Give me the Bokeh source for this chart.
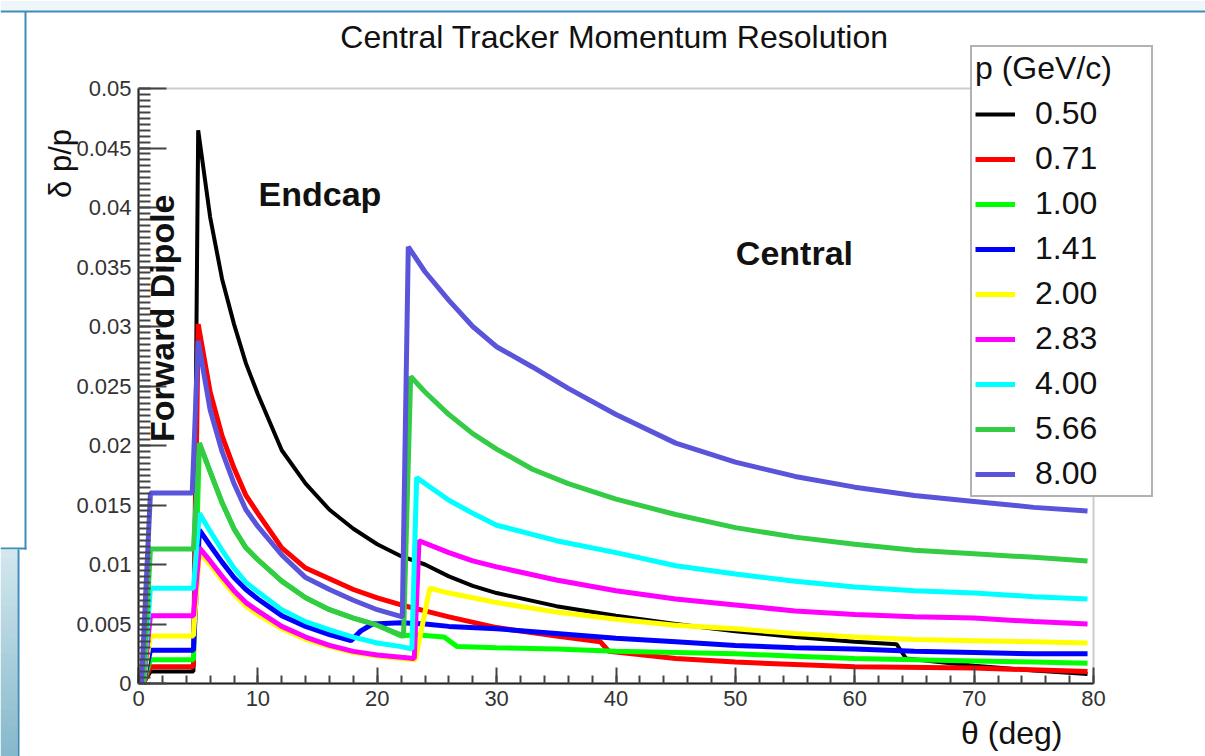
import math
from bokeh.plotting import figure
from bokeh.models import (Range1d, FixedTicker, Label, Legend, LegendItem, BoxAnnotation,
                          LinearAxis)
from bokeh.embed import file_html
from bokeh.resources import INLINE

FONT = "Liberation Sans"

# ---------------- data ----------------
momenta = ["0.50", "0.71", "1.00", "1.41", "2.00", "2.83", "4.00", "5.66", "8.00"]
colors = ["#000000", "#ff0000", "#00ff00", "#0000ff", "#ffff00", "#ff00ff",
          "#00ffff", "#33cc44", "#5954d9"]
widths = [4, 5, 5, 5, 5, 5, 5, 5, 5]

theta_050 = [0.4, 1.0, 4.6, 5.0, 6, 7, 8, 9, 10, 12, 14, 16, 18, 20, 22, 24, 26, 28, 30,
             35, 40, 45, 50, 55, 60, 63.5, 64.3, 70, 75, 79.5]
dpp_050 = [0, 0.0010, 0.0010, 0.0465, 0.0392, 0.0340, 0.0302, 0.0269, 0.0243, 0.0196,
           0.0168, 0.0146, 0.0130, 0.0117, 0.0107, 0.0100, 0.0090, 0.0082, 0.0076, 0.0065,
           0.0057, 0.0050, 0.0044, 0.0039, 0.0035, 0.0033, 0.0021, 0.0015, 0.0011, 0.0008]

theta_071 = [0.4, 1.0, 4.6, 5.0, 6, 7, 8, 9, 10, 12, 14, 16, 18, 20, 22, 24, 26, 30, 35,
             38.7, 39.4, 45, 50, 55, 60, 70, 79.5]
dpp_071 = [0, 0.0014, 0.0014, 0.0302, 0.0245, 0.0208, 0.0181, 0.0158, 0.0143, 0.0114,
           0.0097, 0.0088, 0.0079, 0.0072, 0.0066, 0.0061, 0.0056, 0.0047, 0.0040, 0.0035,
           0.0027, 0.0021, 0.0018, 0.0016, 0.0014, 0.0013, 0.0010]

theta_100 = [0.4, 1.0, 4.6, 5.1, 6, 7, 8, 9, 10, 12, 14, 16, 18, 20, 22, 23.2, 25.6, 26.7,
             30, 35, 40, 45, 50, 55, 60, 65, 70, 75, 79.5]
dpp_100 = [0, 0.0020, 0.0020, 0.0202, 0.0178, 0.0152, 0.0130, 0.0114, 0.0104, 0.0086,
           0.0072, 0.0062, 0.0055, 0.0049, 0.0040, 0.0041, 0.0039, 0.0031, 0.0030, 0.0029,
           0.0027, 0.0026, 0.0025, 0.0023, 0.0021, 0.0020, 0.0019, 0.0018, 0.0017]

theta_141 = [0.4, 1.0, 4.6, 5.1, 6, 7, 8, 9, 10, 12, 14, 16, 17.8, 18.6, 19.6, 22, 24, 26,
             30, 35, 40, 45, 50, 55, 60, 65, 70, 75, 79.5]
dpp_141 = [0, 0.0028, 0.0028, 0.0129, 0.0116, 0.0102, 0.0089, 0.0079, 0.0071, 0.0057,
           0.0048, 0.0041, 0.0036, 0.0044, 0.0050, 0.0051, 0.0050, 0.0048, 0.0046, 0.0042,
           0.0038, 0.0035, 0.0032, 0.0030, 0.0029, 0.0027, 0.0026, 0.0025, 0.0025]

theta_200 = [0.4, 1.0, 4.6, 5.1, 6, 7, 8, 9, 10, 12, 14, 16, 18, 20, 22, 23.2, 24.4, 26,
             28, 30, 35, 40, 45, 50, 55, 60, 65, 70, 75, 79.5]
dpp_200 = [0, 0.0040, 0.0040, 0.0110, 0.0100, 0.0087, 0.0075, 0.0065, 0.0058, 0.0046,
           0.0037, 0.0031, 0.0026, 0.0023, 0.0021, 0.0020, 0.0080, 0.0076, 0.0072, 0.0068,
           0.0060, 0.0054, 0.0049, 0.0046, 0.0042, 0.0039, 0.0037, 0.0036, 0.0035, 0.0034]

theta_283 = [0.4, 1.0, 4.6, 5.1, 6, 7, 8, 9, 10, 12, 14, 16, 18, 20, 22, 23.1, 23.5, 26,
             28, 30, 35, 40, 45, 50, 55, 60, 65, 70, 75, 79.5]
dpp_283 = [0, 0.0057, 0.0057, 0.0114, 0.0103, 0.0090, 0.0078, 0.0068, 0.0061, 0.0048,
           0.0039, 0.0032, 0.0027, 0.0024, 0.0022, 0.0021, 0.0120, 0.0110, 0.0103, 0.0098,
           0.0087, 0.0078, 0.0071, 0.0066, 0.0061, 0.0058, 0.0056, 0.0055, 0.0052, 0.0050]

theta_400 = [0.4, 1.0, 4.6, 5.1, 6, 7, 8, 9, 10, 12, 14, 16, 18, 20, 22, 22.9, 23.3, 26,
             28, 30, 35, 40, 45, 50, 55, 60, 65, 70, 75, 79.5]
dpp_400 = [0, 0.0080, 0.0080, 0.0143, 0.0128, 0.0112, 0.0097, 0.0085, 0.0077, 0.0062,
           0.0052, 0.0045, 0.0039, 0.0034, 0.0031, 0.0029, 0.0173, 0.0154, 0.0143, 0.0133,
           0.0120, 0.0110, 0.0099, 0.0092, 0.0086, 0.0081, 0.0078, 0.0076, 0.0073, 0.0071]

theta_566 = [0.4, 1.0, 4.6, 5.1, 6, 7, 8, 9, 10, 12, 14, 16, 18, 20, 22.2, 22.8, 24, 26,
             28, 30, 33, 36, 40, 45, 50, 55, 60, 65, 70, 75, 79.5]
dpp_566 = [0, 0.0113, 0.0113, 0.0202, 0.0178, 0.0152, 0.0130, 0.0114, 0.0104, 0.0086,
           0.0072, 0.0062, 0.0055, 0.0049, 0.0040, 0.0258, 0.0245, 0.0226, 0.0210, 0.0197,
           0.0180, 0.0168, 0.0155, 0.0142, 0.0131, 0.0123, 0.0117, 0.0112, 0.0109, 0.0106,
           0.0103]

theta_800 = [0.25, 1.0, 4.5, 5.0, 6, 7, 8, 9, 10, 12, 14, 16, 18, 20, 22.1, 22.6, 24, 26,
             28, 30, 33, 36, 40, 45, 50, 55, 60, 65, 70, 75, 79.5]
dpp_800 = [0, 0.0160, 0.0160, 0.0288, 0.0230, 0.0195, 0.0168, 0.0146, 0.0132, 0.0108,
           0.0089, 0.0079, 0.0070, 0.0062, 0.0056, 0.0367, 0.0346, 0.0322, 0.0300, 0.0283,
           0.0266, 0.0248, 0.0226, 0.0202, 0.0186, 0.0174, 0.0165, 0.0158, 0.0153, 0.0148,
           0.0145]

series_theta = [theta_050, theta_071, theta_100, theta_141, theta_200, theta_283,
                theta_400, theta_566, theta_800]
series_dpp = [dpp_050, dpp_071, dpp_100, dpp_141, dpp_200, dpp_283, dpp_400, dpp_566,
              dpp_800]

x_ticks = [0, 10, 20, 30, 40, 50, 60, 70, 80]
x_tick_labels = ["0", "10", "20", "30", "40", "50", "60", "70", "80"]
y_ticks = [0, 0.005, 0.01, 0.015, 0.02, 0.025, 0.03, 0.035, 0.04, 0.045, 0.05]
y_tick_labels = ["0", "0.005", "0.01", "0.015", "0.02", "0.025", "0.03", "0.035",
                 "0.04", "0.045", "0.05"]
X_MIN, X_MAX = 0, 80
Y_MIN, Y_MAX = 0, 0.05

# ---------------- layout geometry (pixels) ----------------
W, H = 1205, 756
FL, FR, FT, FB = 138, 1093, 88, 683          # where the axes box sits on the page
sx = (FR - FL) / (X_MAX - X_MIN)
sy = (FB - FT) / (Y_MAX - Y_MIN)

p = figure(width=W, height=H,
           x_range=Range1d(X_MIN - FL / sx, X_MIN + (W - FL) / sx),
           y_range=Range1d(Y_MIN - (H - FB) / sy, Y_MIN + FB / sy),
           output_backend="svg", toolbar_location=None,
           x_axis_location=None, y_axis_location=None,
           min_border=0, background_fill_color="white", border_fill_color="white")
p.outline_line_color = None
p.grid.visible = False

# ---------------- background decorations (slide frame) ----------------
def deco(l, r, t, b, color):
    p.add_layout(BoxAnnotation(left=l, right=r, top=t, bottom=b,
                               left_units="canvas", right_units="canvas",
                               top_units="canvas", bottom_units="canvas",
                               fill_color=color, fill_alpha=1.0, line_alpha=0,
                               level="underlay"))

def mix(c1, c2, t):
    a = [int(c1[i:i + 2], 16) for i in (1, 3, 5)]
    b = [int(c2[i:i + 2], 16) for i in (1, 3, 5)]
    return "#" + "".join("%02x" % round(a[k] + (b[k] - a[k]) * t) for k in range(3))

deco(0, W, 0, 10, "#eef6fa")
deco(0, W, 10, 12, "#3f8cb8")
deco(24, 26, 11, 549, "#3f8cb8")
deco(0, 26, 547, 549, "#3f8cb8")
NB = 26
for i in range(NB):
    deco(0, 17, 549 + i * 8, 549 + (i + 1) * 8 + 1, mix("#d2e7ee", "#86b9cb", i / (NB - 1)))
deco(17, 19, 549, H, "#3f8cb8")

# axes box outline
p.add_layout(BoxAnnotation(left=X_MIN, right=X_MAX, bottom=Y_MIN, top=Y_MAX,
                           fill_alpha=0, line_color="#555555", line_width=2,
                           level="underlay"))

# ---------------- axes ----------------
xaxis = LinearAxis(fixed_location=Y_MIN, bounds=(X_MIN, X_MAX),
                   ticker=FixedTicker(ticks=x_ticks, minor_ticks=[i * 2 for i in range(41)]))
xaxis.major_label_overrides = dict(zip(x_ticks, x_tick_labels))
yaxis = LinearAxis(fixed_location=X_MIN, bounds=(Y_MIN, Y_MAX),
                   ticker=FixedTicker(ticks=y_ticks, minor_ticks=[i * 0.0005 for i in range(101)]))
yaxis.major_label_overrides = dict(zip(y_ticks, y_tick_labels))
for ax in (xaxis, yaxis):
    ax.axis_line_color = "#222222"
    ax.axis_line_width = 2
    ax.major_tick_out = 0
    ax.minor_tick_out = 0
    ax.major_tick_line_color = "#444444"
    ax.minor_tick_line_color = "#444444"
    ax.major_tick_line_width = 2
    ax.minor_tick_line_width = 2
    ax.major_label_text_font = FONT
    ax.major_label_text_font_size = "22px"
    ax.major_label_text_color = "#333333"
yaxis.major_tick_in = 28
yaxis.minor_tick_in = 12
yaxis.major_label_standoff = 7
xaxis.major_tick_in = 16
xaxis.minor_tick_in = 8
xaxis.major_label_standoff = 7
p.add_layout(xaxis, "below")
p.add_layout(yaxis, "left")

# ---------------- curves ----------------
renderers = []
for th, dp, c, w in zip(series_theta, series_dpp, colors, widths):
    r = p.line(th, dp, line_color=c, line_width=w)
    renderers.append(r)

legend = Legend(items=[LegendItem(label=m, renderers=[r]) for m, r in zip(momenta, renderers)],
                location=(970, H - 497), title="p (GeV/c)")
legend.title_text_font = FONT
legend.title_text_font_size = "32px"
legend.title_text_font_style = "normal"
legend.title_text_color = "#111111"
legend.title_standoff = 8
legend.label_text_font = FONT
legend.label_text_font_size = "32px"
legend.label_text_color = "#111111"
legend.glyph_width = 40
legend.glyph_height = 30
legend.label_height = 30
legend.label_width = 113
legend.label_standoff = 20
legend.spacing = 8
legend.padding = 3
legend.margin = 0
legend.border_line_color = "#666666"
legend.border_line_width = 2
legend.background_fill_alpha = 1.0
p.add_layout(legend)

# ---------------- texts ----------------
def lab(x, y, text, size, style="normal", align="left", angle=0.0):
    p.add_layout(Label(x=x, y=y, text=text, text_font=FONT, text_font_size=size,
                       text_font_style=style, text_align=align,
                       text_baseline="alphabetic", angle=angle, text_color="#111111"))

lab(39.87, 0.0543, "Central Tracker Momentum Resolution", "32px", align="center")
lab(10.06, 0.0411, "Endcap", "34px", "bold")
lab(50.04, 0.0362, "Central", "34px", "bold")
lab(1.93, 0.0203, "Forward Dipole", "34px", "bold", angle=math.pi / 2)
lab(-6.53, 0.0408, "\u03b4 p/p", "31px", angle=math.pi / 2)
lab(77.40, -0.00412, "\u03b8 (deg)", "32px", align="right")

open("out.html", "w").write(file_html(p, INLINE))
